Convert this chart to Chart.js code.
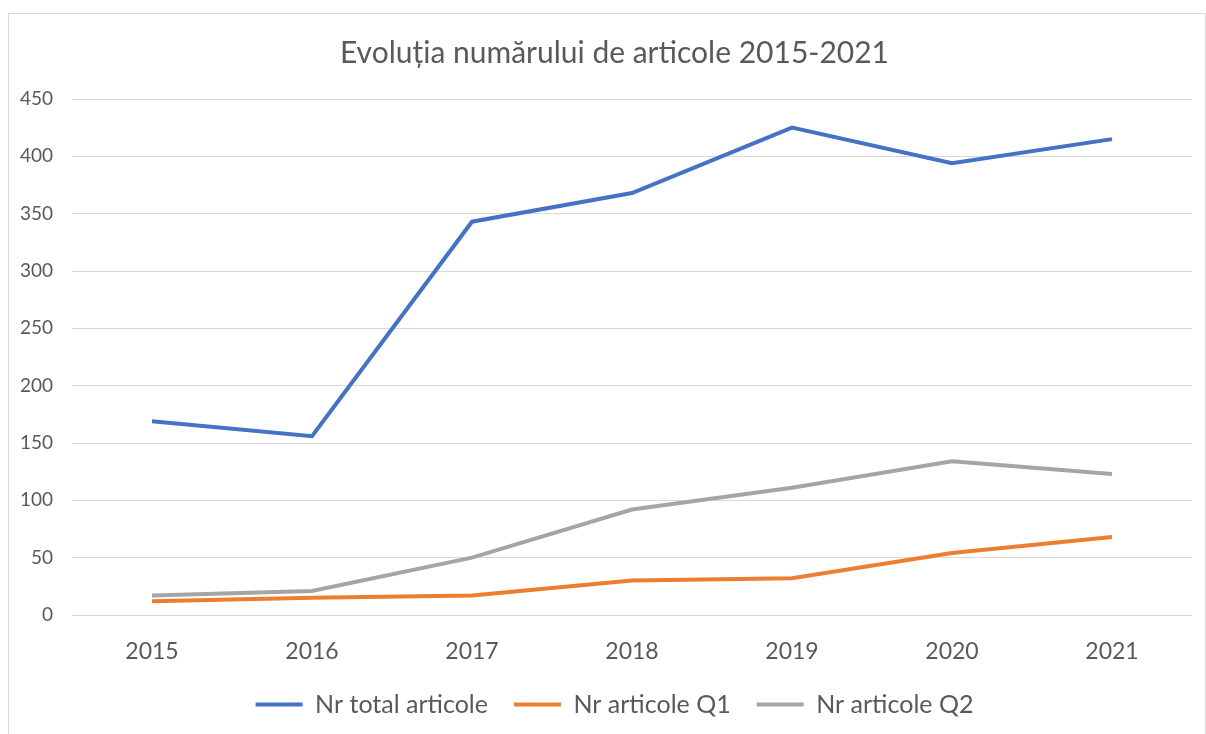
<!DOCTYPE html>
<html>
<head>
<meta charset="utf-8">
<script src="https://cdn.jsdelivr.net/npm/chart.js@4.4.0/dist/chart.umd.min.js"></script>
<style>
  body { margin: 0; background: #fff; overflow: hidden; }
  .frame {
    position: absolute; left: 8px; top: 13px;
    width: 1196px; height: 760px;
    border: 1px solid #d9d9d9; border-bottom: none;
  }
  .frame canvas { display: block; }
</style>
</head>
<body>
<div class="frame">
  <canvas id="myChart" width="1196" height="725"></canvas>
</div>
<script>
const years = ["2015", "2016", "2017", "2018", "2019", "2020", "2021"];
const totalArticole = [169, 156, 343, 368, 425, 394, 415];
const articoleQ1 = [12, 15, 17, 30, 32, 54, 68];
const articoleQ2 = [17, 21, 50, 92, 111, 134, 123];

const textColor = "#595959";
const fontFamily = "Lato, 'Open Sans', sans-serif";

const makeSet = (label, values, color) => ({
  label: label,
  data: values,
  borderColor: color,
  backgroundColor: color,
  borderWidth: 4,
  pointRadius: 0,
  tension: 0,
});

// title and legend sit a bit right of the canvas centre in the original
const shiftBlocks = {
  id: "shiftBlocks",
  afterLayout(chart) {
    [chart.titleBlock, chart.legend].forEach((box) => {
      box.left += 14;
      box.right += 14;
    });
  },
};

const chartInstance = new Chart(document.getElementById("myChart"), {
  type: "line",
  data: {
    labels: years,
    datasets: [
      makeSet("Nr total articole", totalArticole, "#4472C4"),
      makeSet("Nr articole Q1", articoleQ1, "#ED7D31"),
      makeSet("Nr articole Q2", articoleQ2, "#A5A5A5"),
    ],
  },
  options: {
    responsive: false,
    animation: false,
    layout: { padding: { left: 0, right: 13, top: 0, bottom: 12 } },
    plugins: {
      title: {
        display: true,
        text: "Evoluția numărului de articole 2015-2021",
        color: textColor,
        font: { family: fontFamily, size: 30, weight: "normal" },
        padding: { top: 21, bottom: 28 },
      },
      legend: {
        position: "bottom",
        labels: {
          color: textColor,
          font: { family: fontFamily, size: 25 },
          usePointStyle: true,
          pointStyle: "line",
          pointStyleWidth: 47,
          padding: 26,
        },
      },
      tooltip: { enabled: false },
    },
    scales: {
      x: {
        offset: true,
        grid: { display: false },
        border: { display: false },
        ticks: {
          color: textColor,
          font: { family: fontFamily, size: 23 },
          padding: 15,
        },
        afterFit: (scale) => { scale.height = 51; },
      },
      y: {
        min: 0,
        max: 450,
        grid: { color: "#d9d9d9", lineWidth: 1, drawTicks: false },
        border: { display: false },
        ticks: {
          stepSize: 50,
          color: textColor,
          font: { family: fontFamily, size: 19 },
          padding: 19,
        },
        afterFit: (scale) => { scale.width = 63; },
      },
    },
  },
  plugins: [shiftBlocks],
});
</script>
</body>
</html>
